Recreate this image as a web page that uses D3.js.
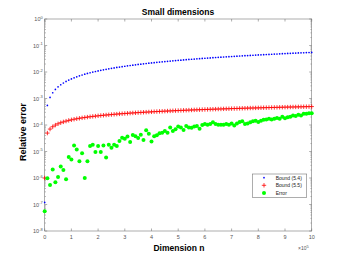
<!DOCTYPE html>
<html><head><meta charset="utf-8">
<script src="https://cdn.jsdelivr.net/npm/d3@7"></script>
<style>body{margin:0;background:#fff}svg{display:block;font-family:"Liberation Sans",Arial,sans-serif}</style>
</head><body><svg id="c" width="346" height="260"></svg>
<script>
// x positions in units of 1e5
const dimensionN = [0,0.1,0.2,0.3,0.4,0.5,0.6,0.7,0.8,0.9,1,1.1,1.2,1.3,1.4,1.5,1.6,1.7,1.8,1.9,2,2.1,2.2,2.3,2.4,2.5,2.6,2.7,2.8,2.9,3,3.1,3.2,3.3,3.4,3.5,3.6,3.7,3.8,3.9,4,4.1,4.2,4.3,4.4,4.5,4.6,4.7,4.8,4.9,5,5.1,5.2,5.3,5.4,5.5,5.6,5.7,5.8,5.9,6,6.1,6.2,6.3,6.4,6.5,6.6,6.7,6.8,6.9,7,7.1,7.2,7.3,7.4,7.5,7.6,7.7,7.8,7.9,8,8.1,8.2,8.3,8.4,8.5,8.6,8.7,8.8,8.9,9,9.1,9.2,9.3,9.4,9.5,9.6,9.7,9.8,9.9,10];
const bound54 = [1.2e-7,0.00055,0.0011,0.00165,0.0022,0.00275,0.0033,0.00385,0.0044,0.00495,0.0055,0.00605,0.0066,0.00715,0.0077,0.00825,0.0088,0.00935,0.0099,0.01045,0.011,0.01155,0.0121,0.01265,0.0132,0.01375,0.0143,0.01485,0.0154,0.01595,0.0165,0.01705,0.0176,0.01815,0.0187,0.01925,0.0198,0.02035,0.0209,0.02145,0.022,0.02255,0.0231,0.02365,0.0242,0.02475,0.0253,0.02585,0.0264,0.02695,0.0275,0.02805,0.0286,0.02915,0.0297,0.03025,0.0308,0.03135,0.0319,0.03245,0.033,0.03355,0.0341,0.03465,0.0352,0.03575,0.0363,0.03685,0.0374,0.03795,0.0385,0.03905,0.0396,0.04015,0.0407,0.04125,0.0418,0.04235,0.0429,0.04345,0.044,0.04455,0.0451,0.04565,0.0462,0.04675,0.0473,0.04785,0.0484,0.04895,0.0495,0.05005,0.0506,0.05115,0.0517,0.05225,0.0528,0.05335,0.0539,0.05445,0.055];
const bound55 = [1.0e-6,4.96e-5,7.02e-5,8.60e-5,9.93e-5,1.11e-4,1.22e-4,1.31e-4,1.40e-4,1.49e-4,1.57e-4,1.65e-4,1.72e-4,1.79e-4,1.86e-4,1.92e-4,1.99e-4,2.05e-4,2.11e-4,2.16e-4,2.22e-4,2.28e-4,2.33e-4,2.38e-4,2.43e-4,2.48e-4,2.53e-4,2.58e-4,2.63e-4,2.67e-4,2.72e-4,2.76e-4,2.81e-4,2.85e-4,2.89e-4,2.94e-4,2.98e-4,3.02e-4,3.06e-4,3.10e-4,3.14e-4,3.18e-4,3.22e-4,3.26e-4,3.29e-4,3.33e-4,3.37e-4,3.40e-4,3.44e-4,3.48e-4,3.51e-4,3.55e-4,3.58e-4,3.61e-4,3.65e-4,3.68e-4,3.72e-4,3.75e-4,3.78e-4,3.81e-4,3.85e-4,3.88e-4,3.91e-4,3.94e-4,3.97e-4,4.00e-4,4.03e-4,4.06e-4,4.09e-4,4.12e-4,4.15e-4,4.18e-4,4.21e-4,4.24e-4,4.27e-4,4.30e-4,4.33e-4,4.36e-4,4.38e-4,4.41e-4,4.44e-4,4.47e-4,4.50e-4,4.52e-4,4.55e-4,4.58e-4,4.60e-4,4.63e-4,4.66e-4,4.68e-4,4.71e-4,4.74e-4,4.76e-4,4.79e-4,4.81e-4,4.84e-4,4.86e-4,4.89e-4,4.91e-4,4.94e-4,4.96e-4];
const errorVals = [5.6e-8,9.8e-7,5.5e-7,2.1e-6,6.9e-7,1.1e-6,2.7e-6,2.0e-6,8.9e-7,6.2e-6,5.0e-6,1.7e-5,1.2e-5,4.3e-6,8.5e-6,1.0e-6,4.3e-6,1.6e-5,1.8e-5,9.5e-6,1.6e-5,9.5e-6,1.7e-5,5.9e-6,1.8e-5,1.4e-5,1.8e-5,1.6e-5,2.5e-5,3.3e-5,3.0e-5,3.7e-5,2.3e-5,4.2e-5,3.8e-5,3.2e-5,4.3e-5,2.7e-5,6.3e-5,4.7e-5,2.4e-5,3.8e-5,4.1e-5,4.9e-5,5.1e-5,5.9e-5,5.1e-5,8.1e-5,5.9e-5,6.9e-5,8.7e-5,8.1e-5,6.5e-5,9.1e-5,8.1e-5,7.8e-5,8.7e-5,9.1e-5,7.2e-5,1.0e-4,1.10e-4,1.02e-4,1.10e-4,1.26e-4,1.10e-4,1.02e-4,1.02e-4,1.02e-4,1.10e-4,1.02e-4,1.15e-4,9.5e-5,1.15e-4,1.29e-4,1.38e-4,1.10e-4,1.15e-4,1.26e-4,1.38e-4,1.45e-4,1.29e-4,1.45e-4,1.58e-4,1.62e-4,1.74e-4,1.62e-4,1.74e-4,1.82e-4,1.74e-4,2.04e-4,1.78e-4,1.95e-4,2.04e-4,2.29e-4,2.19e-4,2.45e-4,2.29e-4,2.63e-4,2.63e-4,2.75e-4,2.75e-4];
const xTicks = [0,1,2,3,4,5,6,7,8,9,10];
const yTickExps = [0,-1,-2,-3,-4,-5,-6,-7,-8];
const seriesNames = ["Bound (5.4)","Bound (5.5)","Error"];
const titleText = "Small dimensions";
const xLabel = "Dimension n";
const yLabel = "Relative error";

const L=44.7,R=311.7,T=19,B=231;
const axisCol="#777", txtCol="#555";
const svg=d3.select("#c");
const x=d3.scaleLinear().domain([0,10]).range([L,R]);
const y=d3.scaleLog().domain([1e-8,1]).range([B,T]);

svg.append("rect").attr("x",L).attr("y",T).attr("width",R-L).attr("height",B-T)
  .attr("fill","#fff").attr("stroke",axisCol).attr("stroke-width",0.6);

const gx=svg.append("g");
const tl=2.5;
xTicks.forEach(t=>{
  gx.append("line").attr("x1",x(t)).attr("x2",x(t)).attr("y1",B).attr("y2",B-tl).attr("stroke",axisCol).attr("stroke-width",0.6);
  gx.append("line").attr("x1",x(t)).attr("x2",x(t)).attr("y1",T).attr("y2",T+tl).attr("stroke",axisCol).attr("stroke-width",0.6);
  gx.append("text").attr("x",x(t)).attr("y",B+8).attr("text-anchor","middle")
    .attr("font-size",5.5).attr("fill",txtCol).text(t);
});
const gy=svg.append("g");
yTickExps.forEach(e=>{
  const v=Math.pow(10,e);
  gy.append("line").attr("x1",L).attr("x2",L+tl).attr("y1",y(v)).attr("y2",y(v)).attr("stroke",axisCol).attr("stroke-width",0.6);
  gy.append("line").attr("x1",R).attr("x2",R-tl).attr("y1",y(v)).attr("y2",y(v)).attr("stroke",axisCol).attr("stroke-width",0.6);
  const t=gy.append("text").attr("x",L-2).attr("y",y(v)+2).attr("text-anchor","end").attr("font-size",5.5).attr("fill",txtCol);
  t.append("tspan").text("10");
  t.append("tspan").attr("dy",-2.5).attr("font-size",4).text(e);
  if(e>-8){
    for(let m=2;m<=9;m++){
      const mv=m*Math.pow(10,e-1);
      gy.append("line").attr("x1",L).attr("x2",L+1.3).attr("y1",y(mv)).attr("y2",y(mv)).attr("stroke",axisCol).attr("stroke-width",0.5);
      gy.append("line").attr("x1",R).attr("x2",R-1.3).attr("y1",y(mv)).attr("y2",y(mv)).attr("stroke",axisCol).attr("stroke-width",0.5);
    }
  }
});

const pts=dimensionN.map((n,i)=>({n,b4:bound54[i],b5:bound55[i],e:errorVals[i]}));
const plot=svg.append("g");
plot.selectAll(".b4").data(pts).enter().append("circle")
  .attr("cx",d=>x(d.n)).attr("cy",d=>y(d.b4)).attr("r",0.85).attr("fill","#0000ff");
plot.selectAll(".b5").data(pts).enter().append("path")
  .attr("d",d=>{const cx=x(d.n),cy=y(d.b5),s=2.2;return `M${cx-s},${cy}H${cx+s}M${cx},${cy-s}V${cy+s}`;})
  .attr("stroke","#ff0000").attr("stroke-width",0.8).attr("fill","none");
plot.selectAll(".er").data(pts).enter().append("circle")
  .attr("cx",d=>x(d.n)).attr("cy",d=>y(d.e)).attr("r",2).attr("fill","#00ff00");

svg.append("text").attr("x",178).attr("y",15).attr("text-anchor","middle").attr("font-size",8.5)
  .attr("font-weight","bold").attr("fill","#000").text(titleText);
svg.append("text").attr("x",179).attr("y",251).attr("text-anchor","middle").attr("font-size",8.5)
  .attr("font-weight","bold").attr("fill","#000").text(xLabel);
svg.append("text").attr("transform","translate(25.5,132) rotate(-90)").attr("text-anchor","middle").attr("font-size",9)
  .attr("font-weight","bold").attr("fill","#000").text(yLabel);
const ex=svg.append("text").attr("x",298).attr("y",250).attr("font-size",5).attr("fill",txtCol);
ex.append("tspan").text("\u00d710");
ex.append("tspan").attr("dy",-2.5).attr("font-size",4).text("5");

const lg=svg.append("g");
lg.append("rect").attr("x",252.3).attr("y",174).attr("width",54.4).attr("height",23.3)
  .attr("fill","#fff").attr("stroke",axisCol).attr("stroke-width",0.6);
const ly=[177.7,185.3,193];
lg.append("circle").attr("cx",264).attr("cy",ly[0]).attr("r",0.85).attr("fill","#0000ff");
lg.append("path").attr("d",`M261.8,${ly[1]}H266.2M264,${ly[1]-2.2}V${ly[1]+2.2}`).attr("stroke","#ff0000").attr("stroke-width",0.8);
lg.append("circle").attr("cx",264).attr("cy",ly[2]).attr("r",2).attr("fill","#00ff00");
seriesNames.forEach((s,i)=>{
  lg.append("text").attr("x",275.7).attr("y",ly[i]+1.8).attr("font-size",5).attr("fill","#222").text(s);
});
</script></body></html>
